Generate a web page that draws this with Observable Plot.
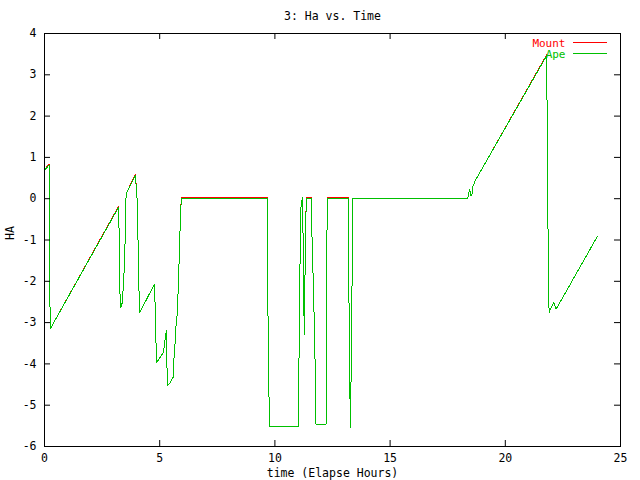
<!DOCTYPE html>
<html>
<head>
<meta charset="utf-8">
<script src="https://cdn.jsdelivr.net/npm/d3@7"></script>
<script src="https://cdn.jsdelivr.net/npm/@observablehq/plot@0.6"></script>
<style>
  html, body { margin: 0; padding: 0; background: #fff; }
</style>
</head>
<body>
<div id="chart"></div>
<script>
const title = "3: Ha vs. Time";
const xLabel = "time (Elapse Hours)";
const yLabel = "HA";
const seriesNames = ["Mount", "Ape"];
const seriesColors = ["#ff0000", "#00c000"];
const xTicks = [0, 5, 10, 15, 20, 25];
const yTicks = [-6, -5, -4, -3, -2, -1, 0, 1, 2, 3, 4];

const time = [
  0.02, 0.17, 0.21, 0.21, 0.25, 3.21, 3.24, 3.25, 3.31, 3.38,
  3.45, 3.53, 3.54, 3.94, 4.01, 4.05, 4.09, 4.14, 4.77, 4.80,
  4.84, 4.87, 5.16, 5.25, 5.29, 5.33, 5.41, 5.58, 5.60, 5.67,
  5.70, 5.77, 5.81, 5.86, 5.90, 5.94, 9.68, 9.68, 9.72, 9.77,
  11.04, 11.04, 11.09, 11.13, 11.17, 11.20, 11.22, 11.24, 11.29, 11.32,
  11.37, 11.59, 11.59, 11.63, 11.68, 11.75, 11.78, 12.22, 12.22, 12.24,
  12.29, 13.20, 13.20, 13.24, 13.28, 13.31, 13.36, 13.37, 18.37, 18.45,
  18.51, 18.56, 18.60, 18.70, 21.79, 21.82, 21.86, 21.90, 22.00, 22.10,
  22.21, 23.99
];
const apeHa = [
  0.70, 0.80, 0.80, -1.18, -3.15, -0.21, -0.84, -2.05, -2.63, -2.51,
  -1.82, -0.53, 0.12, 0.56, 0.12, -0.69, -2.06, -2.75, -2.07, -2.54,
  -3.49, -3.97, -3.72, -3.34, -3.20, -4.52, -4.49, -4.33, -4.04, -3.48,
  -3.12, -2.75, -2.03, -1.24, -0.41, 0.00, 0.00, -1.38, -4.14, -5.52,
  -5.52, -4.20, -1.58, -0.21, -0.06, 0.02, -0.82, -2.45, -3.28, -0.82,
  0.00, 0.00, -0.44, -1.36, -2.28, -4.11, -5.46, -5.46, -4.11, -1.38,
  0.00, 0.00, -1.38, -4.14, -5.53, -4.14, -1.38, 0.00, 0.00, 0.23,
  0.06, 0.13, 0.31, 0.44, 3.46, 1.91, -1.19, -2.75, -2.63, -2.51,
  -2.67, -0.92
];
const mountHa = [
  0.72, 0.82, 0.82, -1.18, -3.15, -0.19, -0.84, -2.05, -2.63, -2.51,
  -1.82, -0.53, 0.12, 0.58, 0.12, -0.69, -2.06, -2.75, -2.07, -2.54,
  -3.49, -3.97, -3.72, -3.34, -3.20, -4.52, -4.49, -4.33, -4.04, -3.48,
  -3.12, -2.75, -2.03, -1.24, -0.41, 0.025, 0.025, -1.38, -4.14, -5.52,
  -5.52, -4.20, -1.58, -0.21, -0.06, 0.04, -0.82, -2.45, -3.28, -0.82,
  0.025, 0.025, -0.44, -1.36, -2.28, -4.11, -5.46, -5.46, -4.11, -1.38,
  0.025, 0.025, -1.38, -4.14, -5.53, -4.14, -1.38, 0.00, 0.00, 0.23,
  0.06, 0.13, 0.31, 0.44, 3.48, 1.91, -1.19, -2.75, -2.63, -2.51,
  -2.67, -0.92
];

const mountData = time.map((t, i) => ({t, ha: mountHa[i]}));
const apeData = time.map((t, i) => ({t, ha: apeHa[i]}));

const W = 640, H = 480;
const mL = 44, mR = 20, mT = 33, mB = 34;
const innerW = W - mL - mR, innerH = H - mT - mB;
const tickLen = 6;
const font = "'DejaVu Sans Mono', 'Liberation Mono', monospace";

const chart = Plot.plot({
  width: W,
  height: H,
  marginLeft: mL,
  marginRight: mR,
  marginTop: mT,
  marginBottom: mB,
  style: {fontFamily: font, fontSize: "11.5px", color: "#000", background: "#fff"},
  x: {domain: [0, 25]},
  y: {domain: [-6, 4]},
  marks: [
    Plot.line(mountData, {x: "t", y: "ha", stroke: seriesColors[0], strokeWidth: 1, shapeRendering: "crispEdges"}),
    Plot.line(apeData, {x: "t", y: "ha", stroke: seriesColors[1], strokeWidth: 1, shapeRendering: "crispEdges"}),
    Plot.tickX(xTicks, {x: d => d, insetTop: innerH - tickLen, stroke: "#000"}),
    Plot.tickX(xTicks, {x: d => d, insetBottom: innerH - tickLen, stroke: "#000"}),
    Plot.tickY(yTicks, {y: d => d, insetRight: innerW - tickLen, stroke: "#000"}),
    Plot.tickY(yTicks, {y: d => d, insetLeft: innerW - tickLen, stroke: "#000"}),
    Plot.frame({stroke: "#000", strokeWidth: 1}),
    Plot.axisX({ticks: xTicks, tickSize: 0, tickPadding: 7, label: null, tickFormat: d => String(d)}),
    Plot.axisY({ticks: yTicks, tickSize: 0, tickPadding: 8, label: null, tickFormat: d => String(d).replace("\u2212", "-")}),
    Plot.text([title], {frameAnchor: "top", dy: -17, lineAnchor: "middle", text: d => d, fill: "#000"}),
    Plot.text([xLabel], {frameAnchor: "bottom", dy: 27, lineAnchor: "middle", text: d => d, fill: "#000"}),
    Plot.text([yLabel], {frameAnchor: "left", dx: -34, rotate: -90, lineAnchor: "middle", text: d => d, fill: "#000"}),
    Plot.text([seriesNames[0]], {frameAnchor: "top-right", dx: -55, dy: 9.5, fontSize: 11, lineAnchor: "middle", textAnchor: "end", text: d => d, fill: seriesColors[0]}),
    Plot.text([seriesNames[1]], {frameAnchor: "top-right", dx: -55, dy: 21, fontSize: 11, lineAnchor: "middle", textAnchor: "end", text: d => d, fill: seriesColors[1]})
  ]
});

document.getElementById("chart").appendChild(chart);

// legend sample lines
const svg = d3.select(chart);
seriesColors.forEach((c, i) => {
  svg.append("line")
    .attr("x1", 573).attr("x2", 607)
    .attr("y1", 42.5 + i * 11).attr("y2", 42.5 + i * 11)
    .attr("stroke", c).attr("stroke-width", 1);
});
</script>
</body>
</html>
